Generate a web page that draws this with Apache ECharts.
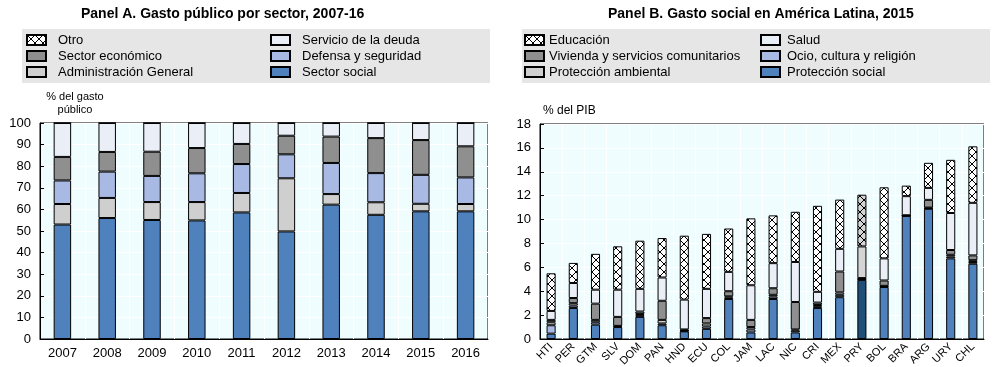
<!DOCTYPE html>
<html><head><meta charset="utf-8">
<script src="https://cdn.jsdelivr.net/npm/echarts@6/dist/echarts.min.js"></script>
<style>html,body{margin:0;padding:0;background:#fff}#c{width:1000px;height:367px}</style>
</head><body><div id="c"></div>
<script>
// ---- Panel A data ----
const yearsA = ['2007','2008','2009','2010','2011','2012','2013','2014','2015','2016'];
const socialA   = [53.0, 56.0, 55.1, 54.9, 58.6, 49.8, 62.2, 57.5, 59.1, 59.1];
const adminA    = [9.5, 9.3, 8.3, 8.5, 9.0, 24.6, 4.9, 5.8, 3.5, 3.4];
const defensaA  = [10.9, 12.2, 12.1, 13.3, 13.4, 11.1, 14.4, 13.5, 13.4, 12.3];
const economA   = [10.9, 9.1, 11.2, 11.7, 9.3, 8.6, 12.2, 16.2, 16.1, 14.4];
const deudaA    = [15.7, 13.4, 13.3, 11.6, 9.7, 5.9, 6.3, 7.0, 7.9, 10.8];
const otroA     = [0, 0, 0, 0, 0, 0, 0, 0, 0, 0];
const ticksA = [0,10,20,30,40,50,60,70,80,90,100];

// ---- Panel B data ----
const countriesB = ['HTI','PER','GTM','SLV','DOM','PAN','HND','ECU','COL','JAM','LAC','NIC','CRI','MEX','PRY','BOL','BRA','ARG','URY','CHL'];
const protSocialB = [0.45, 2.6, 1.2, 1.0, 1.85, 1.15, 0.64, 0.85, 3.35, 0.55, 3.35, 0.55, 2.6, 3.5, 4.95, 4.35, 10.3, 10.9, 6.75, 6.3];
const ocioB       = [0.7, 0.2, 0.2, 0.05, 0.15, 0.15, 0.05, 0.2, 0.12, 0.25, 0.2, 0.15, 0.15, 0.2, 0.05, 0.05, 0.02, 0.05, 0.15, 0.15];
const ambientalB  = [0.25, 0.2, 0.2, 0.05, 0.1, 0.3, 0.03, 0.25, 0.1, 0.2, 0.15, 0.1, 0.1, 0.2, 0.05, 0.05, 0.02, 0.05, 0.15, 0.15];
const viviendaB   = [0.2, 0.43, 1.36, 0.75, 0.2, 1.6, 0.08, 0.45, 0.43, 0.6, 0.55, 2.3, 0.2, 1.75, 0.05, 0.45, 0.02, 0.65, 0.4, 0.4];
const saludB      = [0.75, 1.26, 1.17, 2.28, 1.9, 1.95, 2.5, 2.45, 1.62, 2.9, 2.1, 3.35, 0.9, 1.9, 2.65, 1.85, 1.6, 1.0, 3.1, 4.4];
const educacionB  = [3.15, 1.68, 3.0, 3.63, 4.03, 3.3, 5.35, 4.6, 3.63, 5.6, 4.0, 4.2, 7.2, 4.12, 4.33, 5.95, 0.88, 2.1, 4.45, 4.73];
const ticksB = [0,2,4,6,8,10,12,14,16,18];
const highlightB = 'PRY';

const FONT = "'Liberation Sans', Arial, sans-serif";
const C_SOCIAL = '#4f81bd', C_LBLUE = '#a8b9e3', C_LGRAY = '#cfcfcf', C_DGRAY = '#8f8f8f', C_PALE = '#eaeef7';
const C_DARKBLUE = '#1f4e79', C_HLGRAY = '#d4d4d4';

function hatch(bg) {
  const s = 8, cv = document.createElement('canvas');
  cv.width = s; cv.height = s;
  const g = cv.getContext('2d');
  g.fillStyle = bg; g.fillRect(0,0,s,s);
  g.strokeStyle = '#000'; g.lineWidth = 1;
  g.beginPath(); g.moveTo(0,0); g.lineTo(s,s); g.moveTo(s,0); g.lineTo(0,s); g.stroke();
  return {image: cv, repeat: 'repeat'};
}
const HATCH = hatch('#ffffff'), HATCH_HL = hatch(C_HLGRAY);

function mkA(name, data, color) {
  return {name, type:'bar', stack:'A', xAxisIndex:0, yAxisIndex:0, data, barWidth:'39%',
    itemStyle:{color, borderColor:'#000', borderWidth:1}};
}
function mkB(name, data, color, hlColor) {
  return {name, type:'bar', stack:'B', xAxisIndex:1, yAxisIndex:1, barWidth:'41%',
    data: data.map((v,i)=> countriesB[i]===highlightB && hlColor ? {value:v, itemStyle:{color:hlColor}} : v),
    itemStyle:{color, borderColor:'#000', borderWidth:1}};
}

const axisLbl = {color:'#000', fontFamily:FONT, fontSize:13};
const legBase = {orient:'vertical', icon:'rect', itemWidth:19, itemHeight:10, itemGap:2, top:33, padding:0};
const option = {
  animation:false,
  textStyle:{fontFamily:FONT},
  title:[
    {text:'Panel A. Gasto público por sector, 2007-16', left:76, top:2, textStyle:{fontSize:14, fontWeight:'bold', color:'#000', fontFamily:FONT}},
    {text:'Panel B. Gasto social en América Latina, 2015', left:603, top:2, textStyle:{fontSize:14, fontWeight:'bold', color:'#000', fontFamily:FONT}}
  ],
  graphic:[
    {type:'rect', shape:{x:22, y:29, width:468, height:54}, style:{fill:'#e6e6e6'}, z:-1},
    {type:'rect', shape:{x:522, y:29, width:468, height:54}, style:{fill:'#e6e6e6'}, z:-1}
  ],
  legend:[
    {...legBase, left:26, data:['Otro','Sector económico','Administración General'],
      textStyle:{fontSize:13, lineHeight:14, color:'#000', padding:[0,0,0,7]}},
    {...legBase, left:270, data:['Servicio de la deuda','Defensa y seguridad','Sector social'],
      textStyle:{fontSize:13, lineHeight:14, color:'#000', padding:[0,0,0,7]}},
    {...legBase, left:524, data:['Educación','Vivienda y servicios comunitarios','Protección ambiental'],
      textStyle:{fontSize:13, lineHeight:14, color:'#000'}},
    {...legBase, left:760, data:['Salud','Ocio, cultura y religión','Protección social'],
      textStyle:{fontSize:13, lineHeight:14, color:'#000', padding:[0,0,0,2]}}
  ],
  grid:[
    {left:40, right:512, top:123, bottom:28, show:true, backgroundColor:'#f0fdff', borderColor:'#000', borderWidth:1, outerBoundsMode:'none', containLabel:false},
    {left:540, right:16, top:124, bottom:28, show:true, backgroundColor:'#f0fdff', borderColor:'#000', borderWidth:1, outerBoundsMode:'none', containLabel:false}
  ],
  xAxis:[
    {type:'category', gridIndex:0, data:yearsA, axisLine:{lineStyle:{color:'#000'}},
      axisTick:{inside:true, length:4, lineStyle:{color:'#000'}}, axisLabel:{...axisLbl, margin:8},
      splitLine:{show:true, lineStyle:{color:'#fff'}}},
    {type:'category', gridIndex:1, data:countriesB, axisLine:{lineStyle:{color:'#000'}},
      axisTick:{inside:true, length:4, lineStyle:{color:'#000'}}, axisLabel:{...axisLbl, fontSize:11, rotate:45, margin:6, interval:0},
      splitLine:{show:true, lineStyle:{color:'#fff'}}}
  ],
  yAxis:[
    {type:'value', gridIndex:0, min:ticksA[0], max:ticksA[ticksA.length-1], interval:10,
      name:'% del gasto\npúblico', nameLocation:'end', nameGap:6, nameTextStyle:{fontSize:11, color:'#000', align:'center', padding:[0,0,0,70], lineHeight:13},
      axisLine:{show:true, lineStyle:{color:'#000'}}, axisTick:{show:true, inside:true, length:4, lineStyle:{color:'#000'}},
      axisLabel:{...axisLbl, margin:9}, splitLine:{show:true, lineStyle:{color:'#fff'}}},
    {type:'value', gridIndex:1, min:ticksB[0], max:ticksB[ticksB.length-1], interval:2,
      name:'% del PIB', nameLocation:'end', nameGap:7, nameTextStyle:{fontSize:12, color:'#000', align:'left', padding:[0,0,0,3]},
      axisLine:{show:true, lineStyle:{color:'#000'}}, axisTick:{show:true, inside:true, length:4, lineStyle:{color:'#000'}},
      axisLabel:{...axisLbl, margin:9}, splitLine:{show:true, lineStyle:{color:'#fff'}}}
  ],
  series:[
    mkA('Sector social', socialA, C_SOCIAL),
    mkA('Administración General', adminA, C_LGRAY),
    mkA('Defensa y seguridad', defensaA, C_LBLUE),
    mkA('Sector económico', economA, C_DGRAY),
    mkA('Servicio de la deuda', deudaA, C_PALE),
    mkA('Otro', otroA, HATCH),
    mkB('Protección social', protSocialB, C_SOCIAL, C_DARKBLUE),
    mkB('Ocio, cultura y religión', ocioB, C_LBLUE, null),
    mkB('Protección ambiental', ambientalB, C_LGRAY, null),
    mkB('Vivienda y servicios comunitarios', viviendaB, C_DGRAY, null),
    mkB('Salud', saludB, C_PALE, C_HLGRAY),
    mkB('Educación', educacionB, HATCH, HATCH_HL)
  ]
};
const chart = echarts.init(document.getElementById('c'), null, {renderer:'canvas'});
chart.setOption(option);
</script></body></html>
